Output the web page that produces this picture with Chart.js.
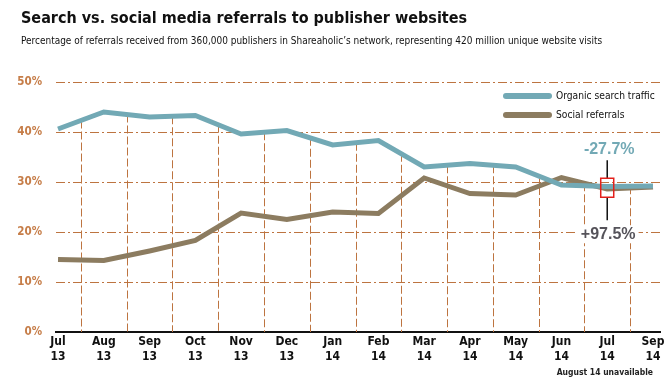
<!DOCTYPE html>
<html>
<head>
<meta charset="utf-8">
<script src="https://cdn.jsdelivr.net/npm/chart.js@4"></script>
<style>
  html, body { margin: 0; padding: 0; background: #fff; }
  #wrap { width: 671px; height: 392px; }
</style>
</head>
<body>
<div id="wrap"><canvas id="chart" width="671" height="392"></canvas></div>
<script>
// data
const months = ['Jul', 'Aug', 'Sep', 'Oct', 'Nov', 'Dec', 'Jan', 'Feb', 'Mar', 'Apr', 'May', 'Jun', 'Jul', 'Sep'];
const years = ['13', '13', '13', '13', '13', '13', '14', '14', '14', '14', '14', '14', '14', '14'];
const search = [40.6, 44.0, 43.0, 43.3, 39.6, 40.3, 37.4, 38.3, 33.0, 33.7, 33.0, 29.4, 29.1, 29.2];
const social = [14.5, 14.3, 16.2, 18.3, 23.8, 22.5, 24.0, 23.7, 30.8, 27.7, 27.4, 30.9, 28.6, 29.0];
const yTicks = [0, 10, 20, 30, 40, 50];
const searchChange = '-27.7%';
const socialChange = '+97.5%';
const markIndex = 12;

const titleText = 'Search vs. social media referrals to publisher websites';
const subtitleText = "Percentage of referrals received from 360,000 publishers in Shareaholic\u2019s network, representing 420 million unique website visits";

const NARROW = '"Liberation Sans Narrow", "DejaVu Sans Condensed", sans-serif';
const GRID = '#bd7440';

// vertical dashed lines between months, from the top line down to 0%
const dropLines = {
    id: 'dropLines',
    beforeDatasetsDraw(chart) {
        const x = chart.scales.x, y = chart.scales.y, ctx = chart.ctx;
        ctx.save();
        ctx.strokeStyle = GRID;
        ctx.lineWidth = 1;
        ctx.setLineDash([8, 3]);
        for (let i = 0; i < months.length - 1; i++) {
            const top = Math.max((search[i] + search[i + 1]) / 2, (social[i] + social[i + 1]) / 2);
            const px = Math.round(x.getPixelForValue(i + 0.5)) + 0.5;
            ctx.beginPath();
            ctx.moveTo(px, y.getPixelForValue(top));
            ctx.lineTo(px, y.getPixelForValue(0));
            ctx.stroke();
        }
        ctx.restore();
    }
};

// headings, legend in the top right corner, and the footnote
const sideBits = {
    id: 'sideBits',
    afterDraw(chart) {
        const ctx = chart.ctx;
        ctx.save();
        ctx.fillStyle = '#111';
        ctx.textBaseline = 'middle';
        ctx.font = 'bold 16px ' + NARROW;
        ctx.fillText(titleText, 21, 18.5);
        ctx.save();
        ctx.translate(21, 41);
        ctx.scale(0.905, 1);
        ctx.font = '11px ' + NARROW;
        ctx.fillText(subtitleText, 0, 0);
        ctx.restore();

        chart.data.datasets.forEach((ds, i) => {
            const ly = 96 + i * 19;
            ctx.strokeStyle = ds.borderColor;
            ctx.lineWidth = 6;
            ctx.lineCap = 'round';
            ctx.beginPath();
            ctx.moveTo(506, ly);
            ctx.lineTo(549, ly);
            ctx.stroke();
            ctx.fillStyle = '#111';
            ctx.font = '10.2px ' + NARROW;
            ctx.fillText(ds.label, 556, ly);
        });
        ctx.font = 'bold 8.5px ' + NARROW;
        ctx.textAlign = 'right';
        ctx.fillStyle = '#222';
        ctx.fillText('August 14 unavailable', 653, 373);
        ctx.restore();
    }
};

// red box on Jul 14 with the two change labels
const changeMark = {
    id: 'changeMark',
    afterDatasetsDraw(chart) {
        const x = chart.scales.x, y = chart.scales.y, ctx = chart.ctx;
        const cx = x.getPixelForValue(markIndex);
        const cy = y.getPixelForValue((search[markIndex] + social[markIndex]) / 2);
        const top = cy - 9.5, bot = cy + 9.5;
        ctx.save();
        ctx.strokeStyle = '#111';
        ctx.lineWidth = 1.5;
        ctx.beginPath();
        ctx.moveTo(cx, top - 18);
        ctx.lineTo(cx, top);
        ctx.moveTo(cx, bot);
        ctx.lineTo(cx, bot + 23);
        ctx.stroke();
        ctx.strokeStyle = '#e3201b';
        ctx.lineWidth = 1.5;
        ctx.strokeRect(cx - 6.5, top, 13, 19);

        ctx.font = 'bold 16px "Liberation Sans", Arial, sans-serif';
        ctx.textAlign = 'center';
        ctx.textBaseline = 'middle';
        ctx.fillStyle = '#72a9b5';
        ctx.fillText(searchChange, cx + 2, top - 29);
        const w = ctx.measureText(socialChange).width;
        ctx.fillStyle = '#fff';
        ctx.fillRect(cx + 1 - w / 2 - 3, bot + 28, w + 6, 18);
        ctx.fillStyle = '#55535a';
        ctx.fillText(socialChange, cx + 1, bot + 37);
        ctx.restore();
    }
};

new Chart(document.getElementById('chart'), {
    type: 'line',
    data: {
        datasets: [
            {
                label: 'Organic search traffic',
                data: search.map((v, i) => ({ x: i, y: v })),
                borderColor: '#72a9b5',
                borderWidth: 5,
                pointRadius: 0,
                tension: 0
            },
            {
                label: 'Social referrals',
                data: social.map((v, i) => ({ x: i, y: v })),
                borderColor: '#8c7c60',
                borderWidth: 5,
                pointRadius: 0,
                tension: 0
            }
        ]
    },
    options: {
        responsive: false,
        animation: false,
        layout: { padding: { left: 6, right: 11, bottom: 0, top: 82 } },
        scales: {
            x: {
                type: 'linear',
                min: -0.044,
                max: 13.153,
                afterBuildTicks: axis => { axis.ticks = months.map((m, i) => ({ value: i })); },
                afterFit: axis => { axis.height = 60; },
                grid: { display: false, drawTicks: false },
                border: { color: '#111', width: 2 },
                ticks: {
                    autoSkip: false,
                    maxRotation: 0,
                    padding: 3,
                    color: '#111',
                    font: { family: NARROW, size: 12, weight: 'bold' },
                    callback: v => [months[v], years[v]]
                }
            },
            y: {
                min: 0,
                max: 50,
                afterBuildTicks: axis => { axis.ticks = yTicks.map(v => ({ value: v })); },
                afterFit: axis => { axis.width = 50; },
                border: { display: false, dash: [9, 3, 2, 3] },
                grid: {
                    color: ctx => ctx.tick.value === 0 ? 'rgba(0,0,0,0)' : GRID,
                    lineWidth: 1,
                    drawTicks: false
                },
                ticks: {
                    padding: 14,
                    color: '#c67d48',
                    font: { family: NARROW, size: 11.5, weight: 'bold' },
                    callback: v => v + '%'
                }
            }
        },
        plugins: {
            legend: { display: false },
            tooltip: { enabled: false },
            title: { display: false },
            subtitle: { display: false }
        }
    },
    plugins: [dropLines, changeMark, sideBits]
});
</script>
</body>
</html>
